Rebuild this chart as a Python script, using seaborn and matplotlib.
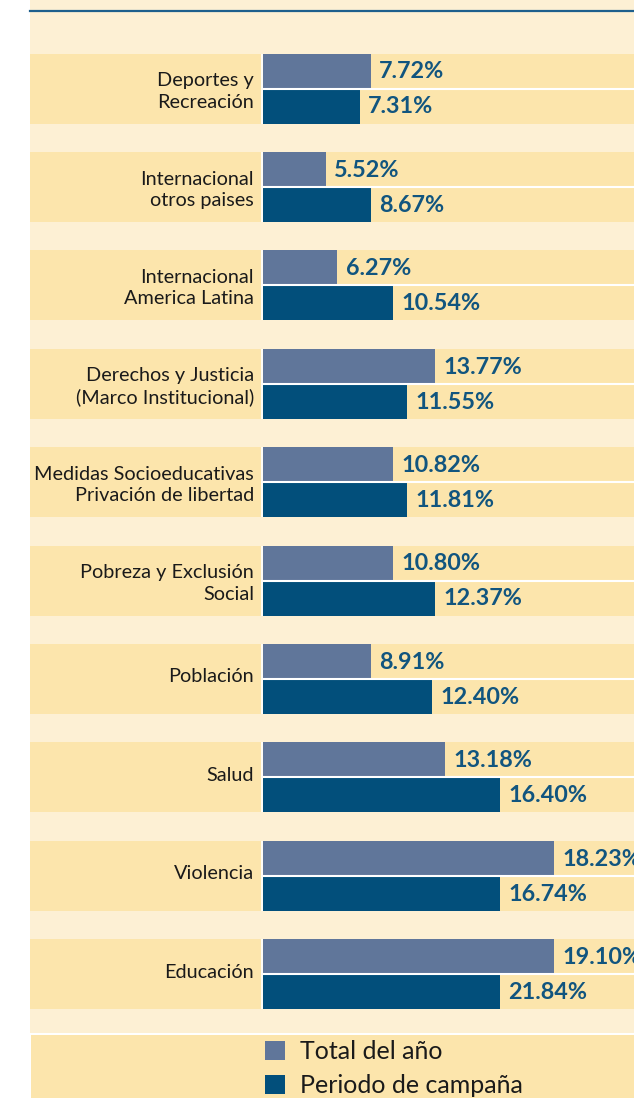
import matplotlib
matplotlib.use("Agg")
import matplotlib.pyplot as plt
import seaborn as sns
import pandas as pd
from matplotlib.patches import Rectangle, Patch
from matplotlib.lines import Line2D

# ---------------- data ----------------
categorias = [
    "Deportes y\nRecreación",
    "Internacional\notros paises",
    "Internacional\nAmerica Latina",
    "Derechos y Justicia\n(Marco Institucional)",
    "Medidas Socioeducativas\nPrivación de libertad",
    "Pobreza y Exclusión\nSocial",
    "Población",
    "Salud",
    "Violencia",
    "Educación",
]
series = ["Total del año", "Periodo de campaña"]
# bar lengths as drawn in the picture
barra_total = [7.7, 4.5, 5.3, 12.3, 9.3, 9.3, 7.7, 13.0, 20.8, 20.8]
barra_campana = [6.9, 7.7, 9.3, 10.3, 10.3, 12.3, 12.1, 16.9, 16.9, 16.9]
# value labels printed next to the bars
etiqueta_total = ["7.72%", "5.52%", "6.27%", "13.77%", "10.82%", "10.80%",
                  "8.91%", "13.18%", "18.23%", "19.10%"]
etiqueta_campana = ["7.31%", "8.67%", "10.54%", "11.55%", "11.81%", "12.37%",
                    "12.40%", "16.40%", "16.74%", "21.84%"]

# ---------------- style ----------------
LIGHT = "#FDF0D4"
DARK = "#FCE5AC"
C_TOTAL = "#60769A"
C_CAMP = "#024F7B"
C_LABEL = "#11557F"
C_TEXT = "#1A1A1A"
FONT = "Lato"

W, H = 634, 1098
fig = plt.figure(figsize=(W / 100, H / 100), dpi=100)
fig.patch.set_facecolor("white")

# background cream region
fig.add_artist(Rectangle((30 / W, 1 - 1033 / H), 1 - 30 / W, 1033 / H,
                         transform=fig.transFigure, color=LIGHT, zorder=-2, lw=0))
# legend band
fig.add_artist(Rectangle((31 / W, 0), 1 - 31 / W, (H - 1035) / H,
                         transform=fig.transFigure, color=DARK, zorder=-2, lw=0))
# top rule
fig.add_artist(Line2D([30 / W, 1], [1 - 11 / H] * 2, transform=fig.transFigure,
                      color="#1E5F8C", lw=1.6, zorder=5))

ax = fig.add_axes([30 / W, (H - 1033) / H, 1 - 30 / W, (1033 - 12) / H])
ax.set_facecolor(LIGHT)

band_h = 70 / 98.4 / 2  # half height of a category band

df = pd.DataFrame({
    "categoria": categorias * 2,
    "serie": [series[0]] * len(categorias) + [series[1]] * len(categorias),
    "valor": barra_total + barra_campana,
})

for i in range(len(categorias)):
    ax.axhspan(i - band_h, i + band_h, color=DARK, lw=0, zorder=0)

sns.barplot(data=df, y="categoria", x="valor", hue="serie", orient="h",
            order=categorias, hue_order=series, palette=[C_TOTAL, C_CAMP],
            width=2 * band_h, gap=0, saturation=1, errorbar=None,
            linewidth=0, legend=False, ax=ax, zorder=2)

px = 14.0  # pixels per unit
xmin, xmax = -233 / px, (W - 263) / px
ax.set_xlim(xmin, xmax)
ax.set_ylim((1033 - 88.5) / 98.4, (12 - 88.5) / 98.4)

# white separators
for i in range(len(categorias)):
    ax.hlines(i, 0, xmax, color="white", lw=1.5, zorder=3)
    ax.vlines(-0.05, i - band_h, i + band_h, color="white", lw=1.3, zorder=3)

# value labels
off = 0.6
for i in range(len(categorias)):
    ax.text(barra_total[i] + off, i - band_h / 2 + 0.01, etiqueta_total[i],
            ha="left", va="center", fontsize=16.8, fontweight="bold",
            color=C_LABEL, family=FONT, zorder=4, clip_on=False)
    ax.text(barra_campana[i] + off, i + band_h / 2 + 0.01, etiqueta_campana[i],
            ha="left", va="center", fontsize=16.8, fontweight="bold",
            color=C_LABEL, family=FONT, zorder=4, clip_on=False)

# category labels
for i, c in enumerate(categorias):
    dy = 0.03 if "\n" in c else -0.02
    ax.text(-9 / px, i + dy, c, ha="right", va="center", fontsize=14.3,
            color=C_TEXT, family=FONT, linespacing=1.3, zorder=4)

ax.set_xlabel("")
ax.set_ylabel("")
ax.set_xticks([])
ax.set_yticks([])
for s in ax.spines.values():
    s.set_visible(False)

handles = [Patch(facecolor=C_TOTAL, label=series[0]),
           Patch(facecolor=C_CAMP, label=series[1])]
fig.legend(handles=handles, loc="upper left",
           bbox_to_anchor=(265 / W, 1 - 1040 / H), frameon=False,
           prop={"family": FONT, "size": 18}, labelcolor=C_TEXT,
           handlelength=0.8, handleheight=0.8, handletextpad=0.6,
           borderpad=0, borderaxespad=0, labelspacing=0.45)

fig.savefig("out.png", dpi=100, facecolor="white")
